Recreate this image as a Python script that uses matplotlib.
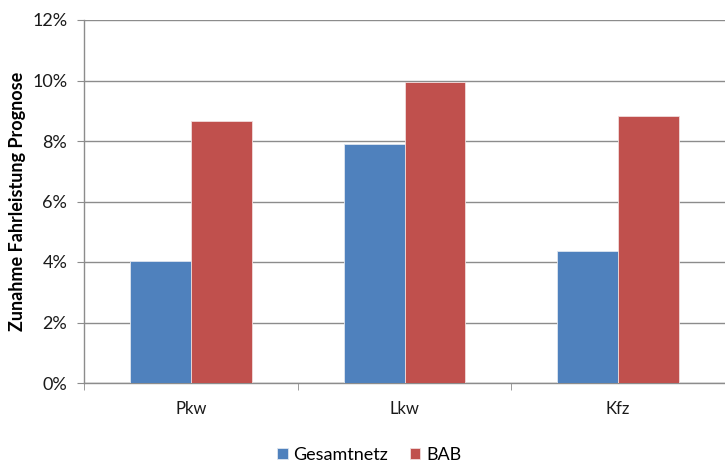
import matplotlib.pyplot as plt
import numpy as np
from matplotlib.ticker import FuncFormatter, FixedLocator

categories = ["Pkw", "Lkw", "Kfz"]
gesamtnetz = [4.03, 7.89, 4.37]
bab = [8.65, 9.94, 8.84]
series_names = ["Gesamtnetz", "BAB"]

plt.rcParams['font.family'] = ['Lato', 'DejaVu Sans']

fig = plt.figure(figsize=(7.25, 4.63), dpi=100)
ax = fig.add_axes([84 / 725, 80 / 463, 641 / 725, 363 / 463])

x = np.arange(len(categories))
w = 0.285
ax.bar(x - w / 2, gesamtnetz, w, color="#4F81BD", edgecolor="#dfe6f0", linewidth=0.6,
       label=series_names[0], zorder=3)
ax.bar(x + w / 2, bab, w, color="#C0504D", edgecolor="#f0dcdc", linewidth=0.6,
       label=series_names[1], zorder=3)

ax.set_xlim(-0.5, 2.5)
ax.set_ylim(0, 12)
ax.set_yticks(np.arange(0, 13, 2))
ax.yaxis.set_major_formatter(FuncFormatter(lambda v, p: f"{v:.0f}%"))
ax.grid(axis='y', color="#8c8c8c", linewidth=1.0, zorder=0)

# category labels centred, tick marks on the category boundaries
ax.set_xticks(x)
ax.set_xticklabels(categories, fontsize=12, color="#1a1a1a")
ax.tick_params(axis='x', which='major', length=0, pad=13)
ax.xaxis.set_minor_locator(FixedLocator([-0.5, 0.5, 1.5, 2.5]))
ax.tick_params(axis='x', which='minor', length=5, color="#8c8c8c", direction='out')
ax.tick_params(axis='y', length=5, color="#8c8c8c", labelsize=13, pad=7, labelcolor="#1a1a1a")

for s in ['top', 'right']:
    ax.spines[s].set_visible(False)
for s in ['left', 'bottom']:
    ax.spines[s].set_color("#8c8c8c")
    ax.spines[s].set_linewidth(1.0)

# axis title placed by its centre
fig.text(18 / 725, 1 - 201.5 / 463, "Zunahme Fahrleistung Prognose", rotation=90,
         ha='center', va='center', fontsize=13, fontweight='bold')

fig.legend(loc='center', bbox_to_anchor=(369 / 725, 1 - 455 / 463), ncol=2, frameon=False,
           fontsize=13, handlelength=0.6, handleheight=0.6, handletextpad=0.3,
           columnspacing=1.2)

fig.savefig("out.png", dpi=100)
